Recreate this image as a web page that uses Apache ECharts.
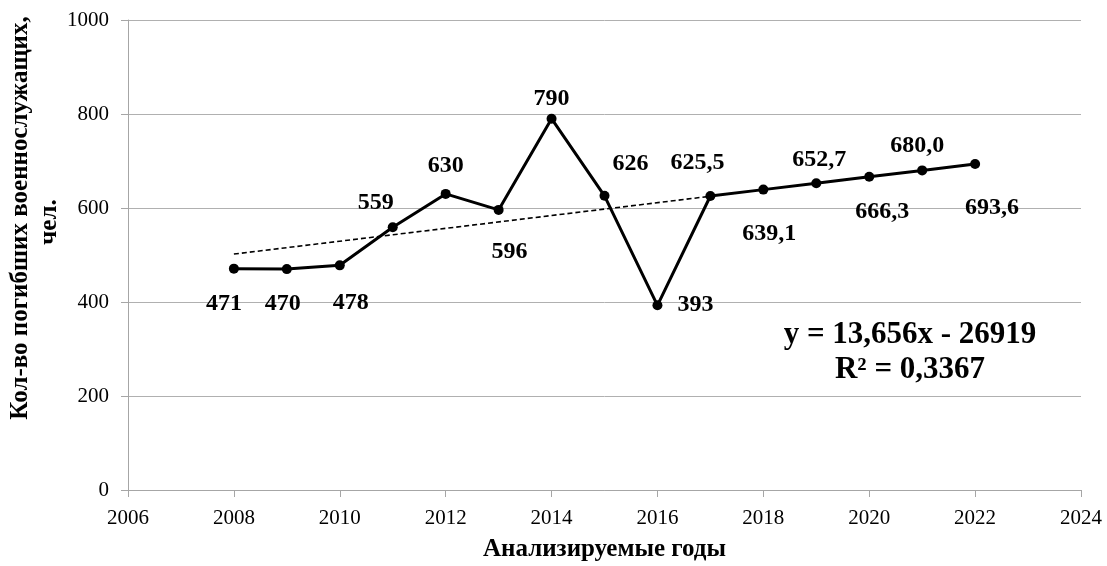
<!DOCTYPE html>
<html><head><meta charset="utf-8">
<script src="https://cdn.jsdelivr.net/npm/echarts@6/dist/echarts.min.js"></script>
<style>html,body{margin:0;padding:0;background:#fff}#c{width:1107px;height:566px}</style>
</head><body><div id="c"></div>
<script>
const years = [2008,2009,2010,2011,2012,2013,2014,2015,2016,2017,2018,2019,2020,2021,2022];
const values = [471,470,478,559,630,596,790,626,393,625.5,639.1,652.7,666.3,680.0,693.6];
const pointLabels = ['471','470','478','559','630','596','790','626','393','625,5','639,1','652,7','666,3','680,0','693,6'];
const trendYears = [2008,2017];
const trendValues = [502,625];
const xTicks = {min:2006,max:2024,interval:2};
const yTicks = {min:0,max:1000,interval:200};
const equationText = 'y = 13,656x - 26919';
const r2Text = 'R² = 0,3367';
const yName1 = 'Кол-во погибших военнослужащих,';
const yName2 = 'чел.';
const xName = 'Анализируемые годы';

const labelOffsets = [[-10,35],[-4,35],[11,37],[-17,-24],[0,-28],[11,42],[0,-20],[26,-32],[38,0],[-13,-33],[6,44],[3,-23],[13,35],[-5,-25],[17,44]];

const font = 'Liberation Serif';
const chart = echarts.init(document.getElementById('c'));
chart.setOption({
  animation:false,
  backgroundColor:'#fff',
  grid:{left:128,right:26,top:20,bottom:76,containLabel:false,outerBoundsMode:'none'},
  xAxis:{type:'value',min:xTicks.min,max:xTicks.max,interval:xTicks.interval,
    axisLine:{lineStyle:{color:'#a6a6a6'}},
    axisTick:{show:true,length:7,lineStyle:{color:'#a6a6a6'}},
    splitLine:{show:false},
    axisLabel:{color:'#000',fontFamily:font,fontSize:21,margin:18,formatter:v=>String(v)},
    name:xName,nameLocation:'middle',nameGap:47,
    nameTextStyle:{color:'#000',fontFamily:font,fontSize:25,fontWeight:'bold'}},
  yAxis:{type:'value',min:yTicks.min,max:yTicks.max,interval:yTicks.interval,
    axisLine:{show:true,lineStyle:{color:'#a6a6a6'}},
    axisTick:{show:true,length:7,lineStyle:{color:'#a6a6a6'}},
    splitLine:{lineStyle:{color:'#b0b0b0'}},
    axisLabel:{color:'#000',fontFamily:font,fontSize:21,margin:19,formatter:v=>String(v)}},
  graphic:[
    {type:'text',x:21,y:218,rotation:Math.PI/2,style:{text:yName1,fill:'#000',font:'bold 25px "Liberation Serif"',textAlign:'center',textVerticalAlign:'middle'}},
    {type:'text',x:50,y:222,rotation:Math.PI/2,style:{text:yName2,fill:'#000',font:'bold 25px "Liberation Serif"',textAlign:'center',textVerticalAlign:'middle'}},
    {type:'text',x:910,y:335,style:{text:equationText,fill:'#000',font:'bold 31px "Liberation Serif"',textAlign:'center',textVerticalAlign:'middle'}},
    {type:'text',x:910,y:370,style:{text:r2Text,fill:'#000',font:'bold 31px "Liberation Serif"',textAlign:'center',textVerticalAlign:'middle'}}
  ],
  series:[
    {type:'line',data:trendYears.map((y,i)=>[y,trendValues[i]]),showSymbol:false,symbol:'none',
     lineStyle:{color:'#000',width:1.6,type:[5,3]},silent:true,z:1},
    {type:'line',data:years.map((y,i)=>({value:[y,values[i]],
       label:{show:true,position:'inside',offset:labelOffsets[i],formatter:pointLabels[i]}})),
     symbol:'circle',symbolSize:10,itemStyle:{color:'#000'},
     lineStyle:{color:'#000',width:3},
     label:{color:'#000',fontFamily:font,fontSize:24,fontWeight:'bold'},z:2}
  ]
});
</script></body></html>
